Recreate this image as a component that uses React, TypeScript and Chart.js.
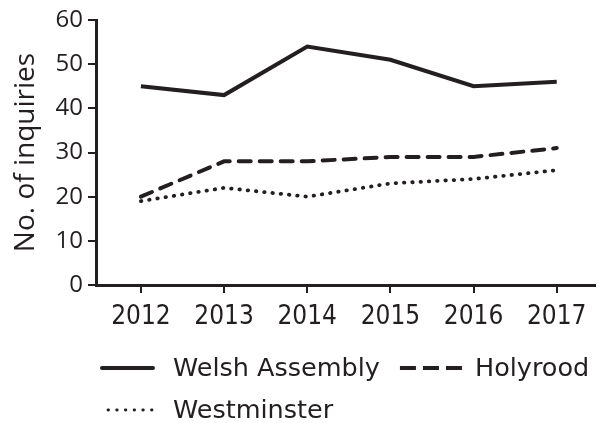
import React, { useEffect, useRef } from 'react';
import { Chart, registerables } from 'chart.js';

Chart.register(...registerables);

const years = [2012, 2013, 2014, 2015, 2016, 2017];
const welshAssembly = [45, 43, 54, 51, 45, 46];
const holyrood = [20, 28, 28, 29, 29, 31];
const westminster = [19, 22, 20, 23, 24, 26];
const yTickValues = [0, 10, 20, 30, 40, 50, 60];
const seriesLabels = ['Welsh Assembly', 'Holyrood', 'Westminster'];
const yAxisTitle = 'No. of inquiries';

const INK = '#231f20';
const CONDENSED = '"DejaVu Sans Condensed", "DejaVu Sans", sans-serif';
const SANS = '"DejaVu Sans", sans-serif';
const OPEN = '"Open Sans", "DejaVu Sans", sans-serif';

const legendPlugin = {
  id: 'customLegend',
  afterDraw(chart: any) {
    const ctx = chart.ctx as CanvasRenderingContext2D;
    const sets = chart.data.datasets;
    const startX = 102;
    const rowYs = [368, 410];
    const spacing = 20;
    const maxRight = 604;
    ctx.save();
    ctx.font = `25.5px ${SANS}`;
    ctx.textBaseline = 'middle';
    ctx.textAlign = 'left';
    let row = 0;
    let x = startX;
    sets.forEach((ds: any) => {
      const sampleW = ds.legendWidth;
      const gap = ds.legendGap;
      const tw = ctx.measureText(ds.label).width;
      const w = sampleW + gap + tw;
      if (x !== startX && x + w > maxRight) {
        row += 1;
        x = startX;
      }
      const y = rowYs[Math.min(row, rowYs.length - 1)];
      const inset = ds.legendInset || 0;
      ctx.save();
      ctx.strokeStyle = ds.borderColor;
      ctx.lineWidth = ds.legendLineWidth;
      ctx.lineCap = ds.legendCap;
      ctx.setLineDash(ds.legendDash);
      ctx.beginPath();
      ctx.moveTo(x + inset, y);
      ctx.lineTo(x + sampleW, y);
      ctx.stroke();
      ctx.restore();
      ctx.fillStyle = INK;
      ctx.fillText(ds.label, x + sampleW + gap, y + 1);
      x += w + spacing;
    });
    ctx.restore();
  },
};

export default function App() {
  const ref = useRef<HTMLCanvasElement | null>(null);

  useEffect(() => {
    if (!ref.current) return;
    const toPts = (vals: number[]) => years.map((yr, i) => ({ x: yr, y: vals[i] }));
    const chart = new Chart(ref.current, {
      type: 'line',
      data: {
        datasets: [
          {
            label: seriesLabels[0],
            data: toPts(welshAssembly),
            borderColor: INK,
            borderWidth: 4,
            pointRadius: 0,
            tension: 0,
            legendWidth: 51,
            legendGap: 20,
            legendLineWidth: 4,
            legendCap: 'round',
            legendDash: [],
          } as any,
          {
            label: seriesLabels[1],
            data: toPts(holyrood),
            borderColor: INK,
            borderWidth: 4,
            borderDash: [12, 9],
            borderCapStyle: 'round',
            pointRadius: 0,
            tension: 0,
            legendWidth: 62,
            legendGap: 13,
            legendLineWidth: 4,
            legendCap: 'butt',
            legendDash: [16, 7],
          } as any,
          {
            label: seriesLabels[2],
            data: toPts(westminster),
            borderColor: INK,
            borderWidth: 3.8,
            borderDash: [0.5, 7.8],
            borderCapStyle: 'round',
            pointRadius: 0,
            tension: 0,
            legendWidth: 51,
            legendGap: 20,
            legendInset: 6,
            legendLineWidth: 2.8,
            legendCap: 'round',
            legendDash: [0.5, 8.2],
          } as any,
        ],
      },
      options: {
        animation: false,
        responsive: false,
        layout: { padding: { left: 9, top: 20, right: 11, bottom: 93 } },
        plugins: {
          legend: { display: false },
          tooltip: { enabled: false },
        },
        scales: {
          x: {
            type: 'linear',
            min: 2011.46,
            max: 2017.46,
            afterBuildTicks: (axis: any) => {
              axis.ticks = years.map((v) => ({ value: v }));
            },
            afterFit: (axis: any) => {
              axis.height = 45;
              axis.paddingLeft = 0;
              axis.paddingRight = 0;
            },
            grid: {
              display: true,
              drawOnChartArea: false,
              drawTicks: true,
              tickLength: 8,
              lineWidth: 2,
              color: INK,
            },
            border: { display: true, width: 3, color: INK },
            ticks: {
              color: INK,
              padding: 9,
              maxRotation: 0,
              autoSkip: false,
              font: { family: CONDENSED, size: 26 },
              callback: (v: any) => String(v),
            },
          },
          y: {
            type: 'linear',
            min: 0,
            max: 60,
            afterBuildTicks: (axis: any) => {
              axis.ticks = yTickValues.map((v) => ({ value: v }));
            },
            afterFit: (axis: any) => {
              axis.width = 87;
              axis.paddingTop = 0;
              axis.paddingBottom = 0;
            },
            grid: {
              display: true,
              drawOnChartArea: false,
              drawTicks: true,
              tickLength: 8,
              lineWidth: 2,
              color: INK,
            },
            border: { display: true, width: 3, color: INK },
            ticks: {
              color: INK,
              padding: 5,
              font: { family: OPEN, size: 24 },
            },
            title: {
              display: true,
              text: yAxisTitle,
              color: INK,
              padding: 0,
              font: { family: OPEN, size: 28 },
            },
          },
        },
      },
      plugins: [legendPlugin],
    });
    return () => chart.destroy();
  }, []);

  return (
    <div style={{ position: 'absolute', left: 0, top: 0, width: 606, height: 423, background: '#fff' }}>
      <canvas ref={ref} width={606} height={423} style={{ display: 'block' }} />
    </div>
  );
}
